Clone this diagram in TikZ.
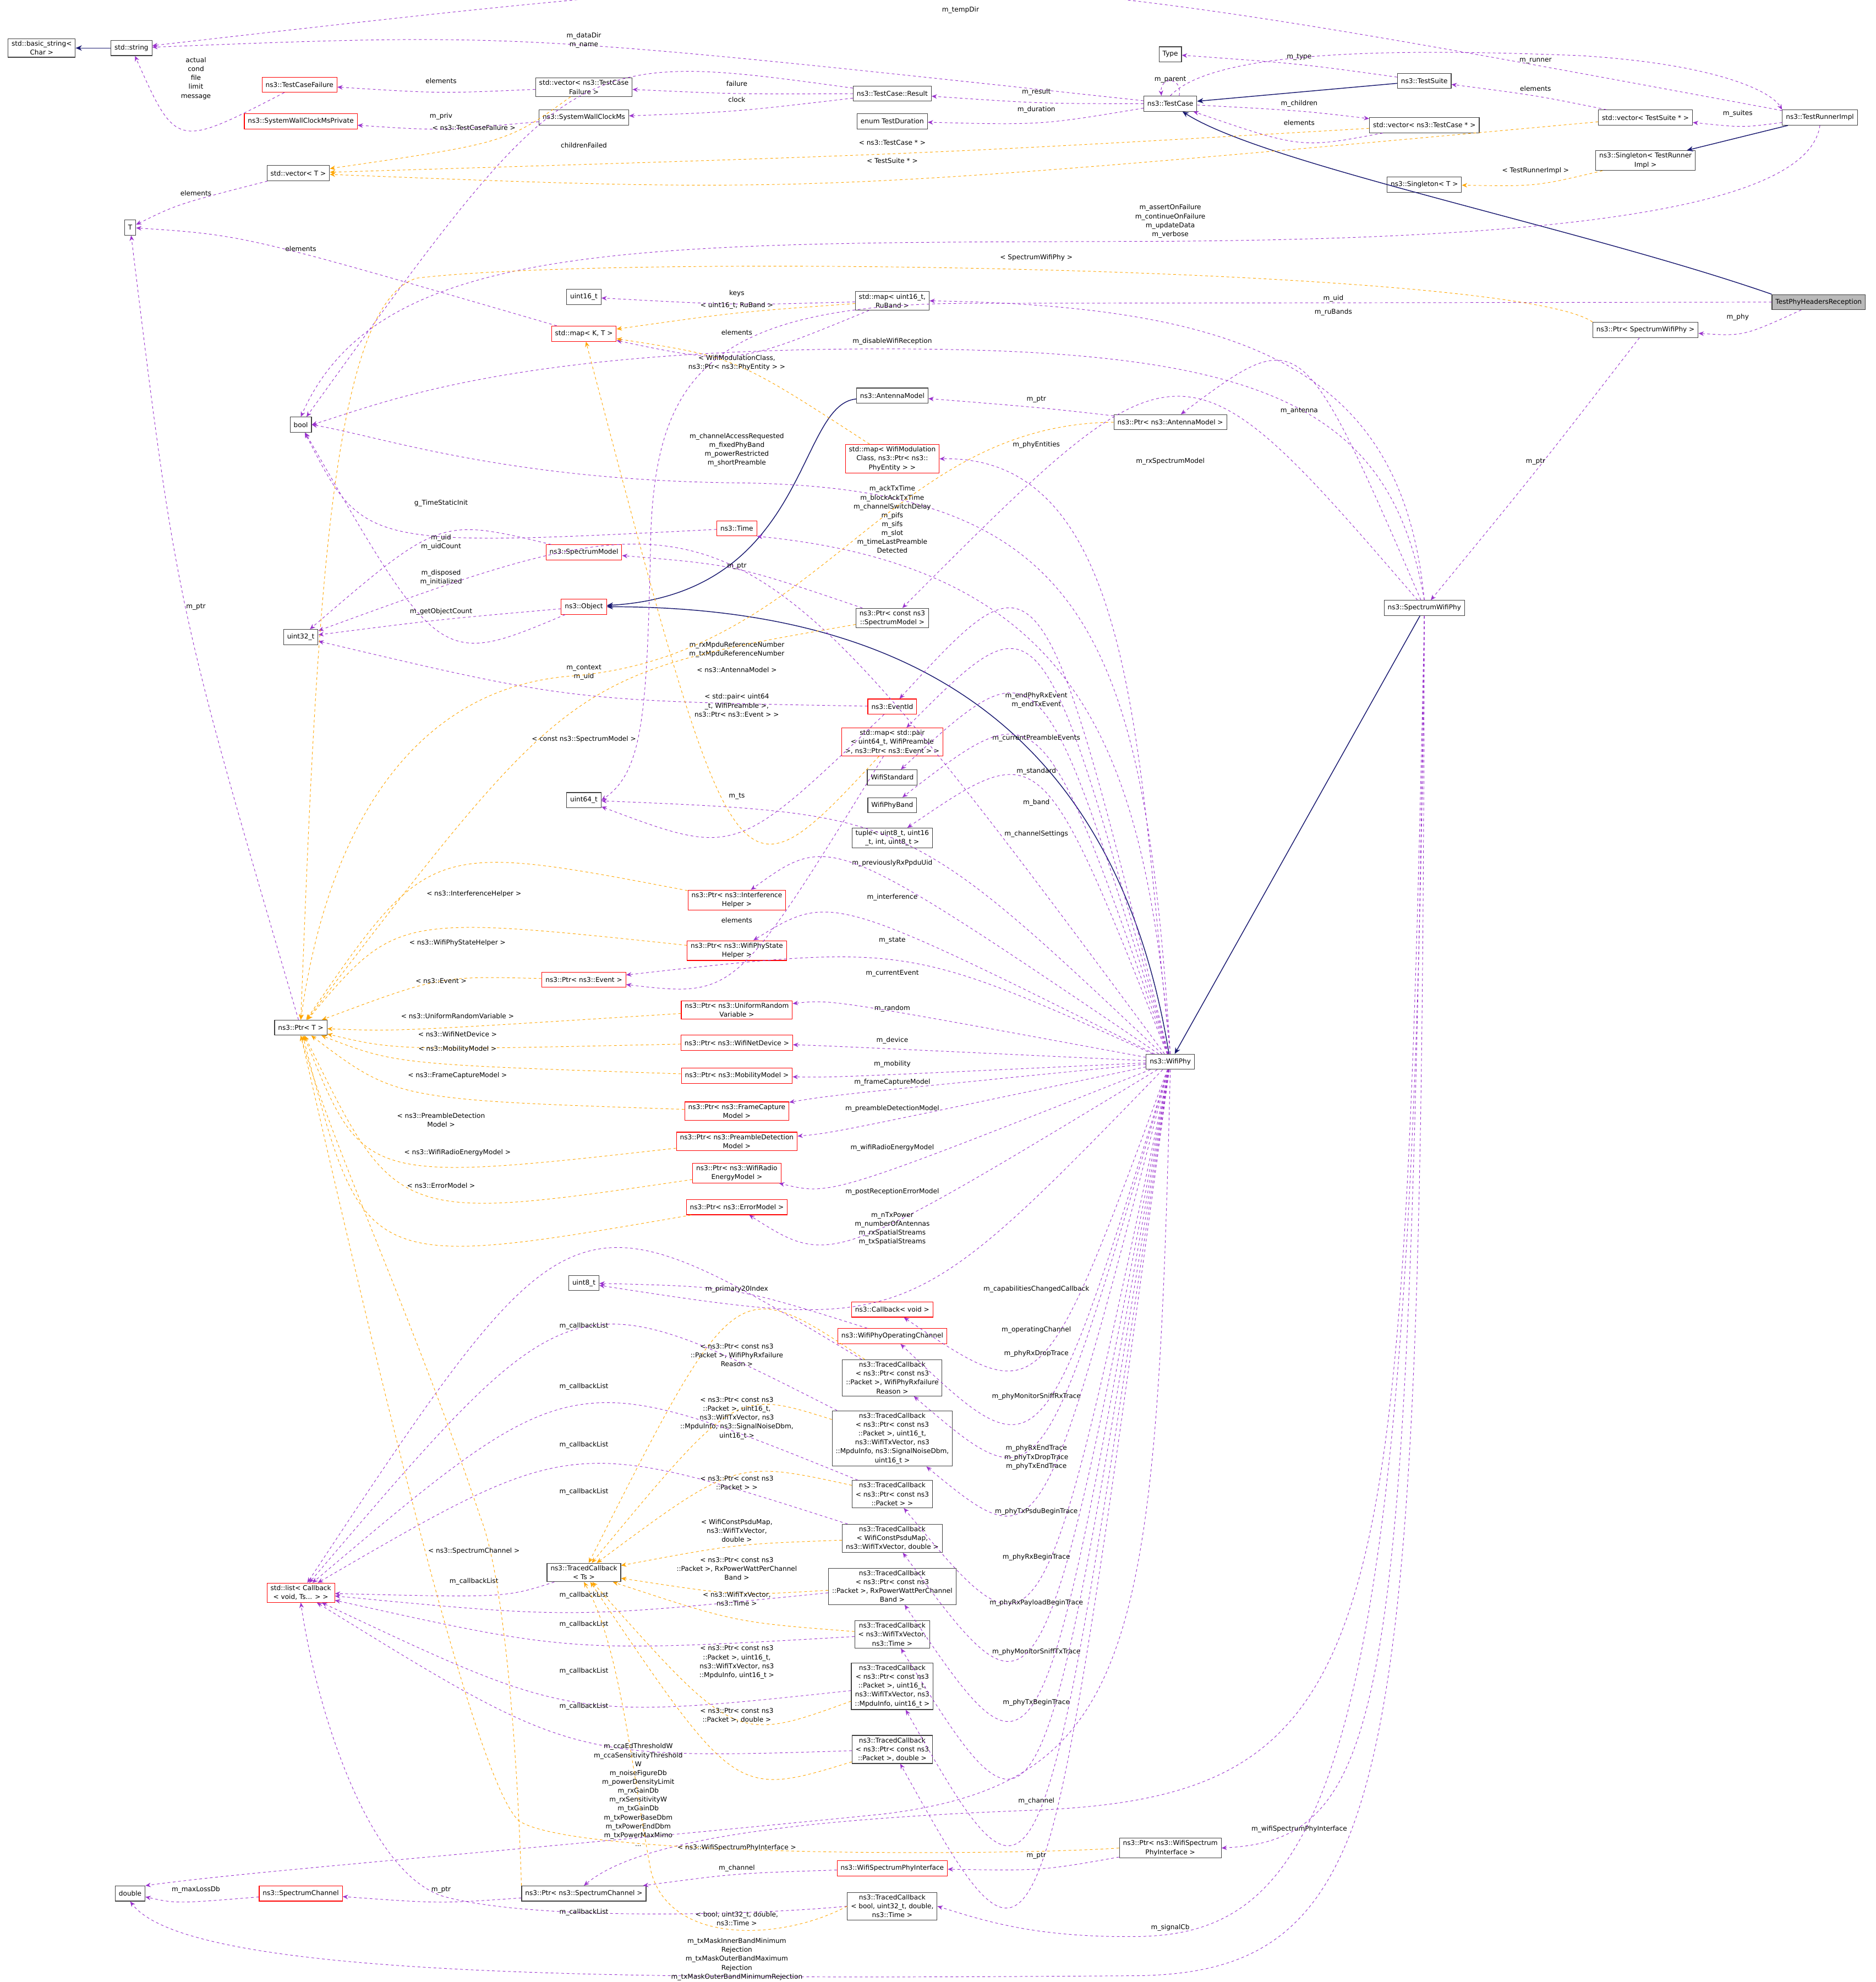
\documentclass[tikz,border=0pt]{standalone}
\usepackage{fontspec}
\setmainfont{DejaVu Sans}
\usetikzlibrary{arrows.meta,calc}
\definecolor{pc}{HTML}{9A32CD}
\definecolor{oc}{HTML}{FFA500}
\definecolor{nc}{HTML}{191970}
\tikzset{
 bx/.style={draw=black!75,line width=0.7pt,inner xsep=4pt,inner ysep=2.5pt,minimum height=0.6cm,align=center,fill=white,font=\fontsize{7.5}{10}\selectfont},
 rbx/.style={bx,draw=red},
 lbl/.style={align=center,inner sep=0pt,font=\fontsize{7.5}{10}\selectfont},
 pe/.style={pc,dashed,line width=0.6pt,-{Stealth[length=6pt,width=5pt]}},
 oe/.style={oc,dashed,line width=0.6pt,-{Stealth[length=6pt,width=5pt]}},
 ie/.style={nc,line width=0.9pt,-{Stealth[length=7pt,width=6pt]}},
}
\newcommand\E[7]{%
 \coordinate (P) at ($(#4,#5)+(0,{4*#6+3})$);
 \draw[#1] (#2) .. controls ($2*(P)-0.5*(#2)-0.5*(#3)$) .. (#3);
 \node[lbl] at (#4,#5) {#7};}
\newcommand\Lb[3]{\node[lbl] at (#1,#2) {#3};}
\begin{document}
\begin{tikzpicture}[x=0.05cm,y=-0.05cm]
\useasboundingbox (0,0) rectangle (1484,1568);
% nodes
\node[bx] (basicstring) at (33,38) {std::basic\_string<\\Char >};
\node[bx] (string) at (104,38) {std::string};
\node[rbx] (tcf) at (237,67) {ns3::TestCaseFailure};
\node[bx] (vecfailure) at (462,69) {std::vector< ns3::TestCase\\Failure >};
\node[rbx] (swpriv) at (238,96) {ns3::SystemWallClockMsPrivate};
\node[bx] (syswall) at (462,93) {ns3::SystemWallClockMs};
\node[bx] (result) at (706,74) {ns3::TestCase::Result};
\node[bx] (duration) at (706,96) {enum TestDuration};
\node[bx] (type) at (926,43) {Type};
\node[bx] (testcase) at (926,82) {ns3::TestCase};
\node[bx] (testsuite) at (1127,64) {ns3::TestSuite};
\node[bx] (vecsuite) at (1302,93) {std::vector< TestSuite * >};
\node[bx] (vectc) at (1127,99) {std::vector< ns3::TestCase * >};
\node[bx] (runner) at (1440,93) {ns3::TestRunnerImpl};
\node[bx] (vecT) at (236,137) {std::vector< T >};
\node[bx] (singR) at (1302,127) {ns3::Singleton< TestRunner\\Impl >};
\node[bx] (singT) at (1127,146) {ns3::Singleton< T >};
\node[bx] (T) at (103,180) {T};
\node[bx,fill=gray!55] (testphy) at (1439,239) {TestPhyHeadersReception};
\node[bx] (uint16) at (462,235) {uint16\_t};
\node[bx] (mapRu) at (706,238) {std::map< uint16\_t,\\RuBand >};
\node[rbx] (mapKT) at (462,264) {std::map< K, T >};
\node[bx] (ptrSWP) at (1302,261) {ns3::Ptr< SpectrumWifiPhy >};
\node[bx] (bool) at (238,336) {bool};
\node[bx] (antenna) at (706,313) {ns3::AntennaModel};
\node[bx] (ptrAnt) at (926,334) {ns3::Ptr< ns3::AntennaModel >};
\node[rbx] (mapWM) at (706,363) {std::map< WifiModulation\\Class, ns3::Ptr< ns3::\\PhyEntity > >};
\node[rbx] (time) at (583,418) {ns3::Time};
\node[rbx] (sm) at (462,437) {ns3::SpectrumModel};
\node[rbx] (object) at (462,480) {ns3::Object};
\node[bx] (ptrSM) at (706,489) {ns3::Ptr< const ns3\\::SpectrumModel >};
\node[bx] (swp) at (1127,481) {ns3::SpectrumWifiPhy};
\node[bx] (uint32) at (238,504) {uint32\_t};
\node[rbx] (eventid) at (706,559) {ns3::EventId};
\node[rbx] (mapPair) at (706,587) {std::map< std::pair\\< uint64\_t, WifiPreamble\\>, ns3::Ptr< ns3::Event > >};
\node[bx] (wstd) at (706,615) {WifiStandard};
\node[bx] (uint64) at (462,633) {uint64\_t};
\node[bx] (wband) at (706,637) {WifiPhyBand};
\node[bx] (tuple) at (706,663) {tuple< uint8\_t, uint16\\\_t, int, uint8\_t >};
\node[rbx] (pInt) at (583,712) {ns3::Ptr< ns3::Interference\\Helper >};
\node[rbx] (pState) at (583,752) {ns3::Ptr< ns3::WifiPhyState\\Helper >};
\node[rbx] (pEvent) at (462,775) {ns3::Ptr< ns3::Event >};
\node[bx] (ptrT) at (238,813) {ns3::Ptr< T >};
\node[rbx] (pRand) at (583,799) {ns3::Ptr< ns3::UniformRandom\\Variable >};
\node[rbx] (pDev) at (583,825) {ns3::Ptr< ns3::WifiNetDevice >};
\node[rbx] (pMob) at (583,851) {ns3::Ptr< ns3::MobilityModel >};
\node[bx] (wifiphy) at (926,840) {ns3::WifiPhy};
\node[rbx] (pFC) at (583,879) {ns3::Ptr< ns3::FrameCapture\\Model >};
\node[rbx] (pPre) at (583,903) {ns3::Ptr< ns3::PreambleDetection\\Model >};
\node[rbx] (pRad) at (583,928) {ns3::Ptr< ns3::WifiRadio\\EnergyModel >};
\node[rbx] (pErr) at (583,955) {ns3::Ptr< ns3::ErrorModel >};
\node[bx] (uint8) at (462,1015) {uint8\_t};
\node[rbx] (cbv) at (706,1036) {ns3::Callback< void >};
\node[rbx] (opch) at (706,1057) {ns3::WifiPhyOperatingChannel};
\node[bx] (tc1) at (706,1090) {ns3::TracedCallback\\< ns3::Ptr< const ns3\\::Packet >, WifiPhyRxfailure\\Reason >};
\node[bx] (tc2) at (706,1138) {ns3::TracedCallback\\< ns3::Ptr< const ns3\\::Packet >, uint16\_t,\\ns3::WifiTxVector, ns3\\::MpduInfo, ns3::SignalNoiseDbm,\\uint16\_t >};
\node[bx] (tc3) at (706,1182) {ns3::TracedCallback\\< ns3::Ptr< const ns3\\::Packet > >};
\node[bx] (tc4) at (706,1217) {ns3::TracedCallback\\< WifiConstPsduMap,\\ns3::WifiTxVector, double >};
\node[bx] (tcTs) at (462,1244) {ns3::TracedCallback\\< Ts >};
\node[rbx] (list) at (238,1260) {std::list< Callback\\< void, Ts... > >};
\node[bx] (tc5) at (706,1255) {ns3::TracedCallback\\< ns3::Ptr< const ns3\\::Packet >, RxPowerWattPerChannel\\Band >};
\node[bx] (tc6) at (706,1293) {ns3::TracedCallback\\< ns3::WifiTxVector,\\ns3::Time >};
\node[bx] (tc7) at (706,1334) {ns3::TracedCallback\\< ns3::Ptr< const ns3\\::Packet >, uint16\_t,\\ns3::WifiTxVector, ns3\\::MpduInfo, uint16\_t >};
\node[bx] (tc8) at (706,1384) {ns3::TracedCallback\\< ns3::Ptr< const ns3\\::Packet >, double >};
\node[bx] (pWSI) at (926,1462) {ns3::Ptr< ns3::WifiSpectrum\\PhyInterface >};
\node[rbx] (wsi) at (706,1478) {ns3::WifiSpectrumPhyInterface};
\node[bx] (double) at (103,1498) {double};
\node[rbx] (sc) at (238,1498) {ns3::SpectrumChannel};
\node[bx] (pSC) at (462,1498) {ns3::Ptr< ns3::SpectrumChannel >};
\node[bx] (tc9) at (706,1508) {ns3::TracedCallback\\< bool, uint32\_t, double,\\ns3::Time >};
% inheritance
\draw[ie] (string) -- (basicstring);
\draw[ie] (testsuite) -- (testcase);
\draw[ie] (runner) -- (singR);
\draw[ie] (testphy.north west) .. controls (1250,180) and (1000,130) .. (testcase);
\draw[ie] (antenna) .. controls (630,320) and (640,470) .. (object);
\draw[ie] (wifiphy) .. controls (880,560) and (700,480) .. (object);
\draw[ie] (swp) -- (wifiphy);
% purple
\E{pe}{runner}{string}{760}{8}{1}{m\_tempDir}
\E{pe}{testcase}{string}{462}{32}{2}{m\_dataDir\\m\_name}
\E{pe}{vecfailure}{tcf}{349}{64}{1}{elements}
\E{pe}{tcf}{string}{155}{62}{5}{actual\\cond\\file\\limit\\message}
\E{pe}{result}{vecfailure}{583}{66}{1}{failure}
\E{pe}{result}{syswall}{583}{79}{1}{clock}
\E{pe}{syswall}{swpriv}{349}{92}{1}{m\_priv}
\E{pe}{result}{bool}{462}{115}{1}{childrenFailed}
\E{pe}{testcase}{result}{820}{73}{1}{m\_result}
\E{pe}{testcase}{duration}{820}{87}{1}{m\_duration}
\draw[pe] ([xshift=10pt]testcase.north) .. controls ([xshift=14pt,yshift=22pt]testcase.north) and ([xshift=-12pt,yshift=22pt]testcase.north) .. ([xshift=-10pt]testcase.north);
\Lb{926}{63}{m\_parent}
\E{pe}{testsuite}{type}{1028}{45}{1}{m\_type}
\draw[pe] (testcase.north) .. controls (960,40) and (1100,38) .. (1250,44) .. controls (1350,50) and (1400,70) .. (runner.north west);
\Lb{1215}{48}{m\_runner}
\E{pe}{vecsuite}{testsuite}{1215}{70}{1}{elements}
\E{pe}{testcase}{vectc}{1028}{82}{1}{m\_children}
\E{pe}{vectc}{testcase}{1028}{97}{1}{elements}
\E{pe}{runner}{vecsuite}{1375}{90}{1}{m\_suites}
\draw[pe] (runner.south) .. controls (1430,170) and (1200,190) .. (900,191) .. controls (500,192) and (300,190) .. (bool.north);
\Lb{926}{175}{m\_assertOnFailure\\m\_continueOnFailure\\m\_updateData\\m\_verbose}
\E{pe}{vecT}{T}{155}{153}{1}{elements}
\E{pe}{mapKT}{T}{238}{197}{1}{elements}
\E{pe}{mapRu}{uint16}{583}{232}{1}{keys}
\E{pe}{mapRu}{mapKT}{583}{263}{1}{elements}
\draw[pe] (testphy.west) -- (760,240) .. controls (560,242) and (520,300) .. (515,420) .. controls (512,560) and (510,610) .. (uint64.east);
\Lb{1055}{236}{m\_uid}
\E{pe}{testphy}{ptrSWP}{1375}{251}{1}{m\_phy}
\draw[pe] (swp.north) .. controls (1110,300) and (1000,242) .. (mapRu.east);
\Lb{1055}{247}{m\_ruBands}
\draw[pe] (swp.north) .. controls (1100,320) and (1000,276) .. (700,276) .. controls (400,276) and (300,320) .. (bool.east);
\Lb{706}{270}{m\_disableWifiReception}
\E{pe}{ptrAnt}{antenna}{820}{316}{1}{m\_ptr}
\E{pe}{swp}{ptrAnt}{1028}{325}{1}{m\_antenna}
\draw[pe] (wifiphy.north) .. controls (900,600) and (900,360) .. (mapWM.east);
\Lb{820}{352}{m\_phyEntities}
\E{pe}{swp}{ptrSM}{926}{365}{1}{m\_rxSpectrumModel}
\E{pe}{ptrSWP}{swp}{1215}{365}{1}{m\_ptr}
\draw[pe] (wifiphy.north) .. controls (905,500) and (860,385) .. (583,382) .. controls (400,380) and (300,345) .. (bool.east);
\Lb{583}{356}{m\_channelAccessRequested\\m\_fixedPhyBand\\m\_powerRestricted\\m\_shortPreamble}
\E{pe}{time}{bool}{349}{398}{1}{g\_TimeStaticInit}
\draw[pe] (wifiphy.north) .. controls (905,600) and (860,450) .. (time.south east);
\Lb{706}{411}{m\_ackTxTime\\m\_blockAckTxTime\\m\_channelSwitchDelay\\m\_pifs\\m\_sifs\\m\_slot\\m\_timeLastPreamble\\Detected}
\E{pe}{sm}{uint32}{349}{429}{2}{m\_uid\\m\_uidCount}
\E{pe}{object}{bool}{349}{457}{2}{m\_disposed\\m\_initialized}
\E{pe}{ptrSM}{sm}{583}{448}{1}{m\_ptr}
\E{pe}{object}{uint32}{349}{484}{1}{m\_getObjectCount}
\E{pe}{wifiphy}{uint32}{583}{514}{2}{m\_rxMpduReferenceNumber\\m\_txMpduReferenceNumber}
\E{pe}{eventid}{uint32}{462}{532}{2}{m\_context\\m\_uid}
\E{pe}{wifiphy}{eventid}{820}{554}{2}{m\_endPhyRxEvent\\m\_endTxEvent}
\E{pe}{wifiphy}{mapPair}{820}{584}{1}{m\_currentPreambleEvents}
\E{pe}{wifiphy}{wstd}{820}{610}{1}{m\_standard}
\E{pe}{eventid}{uint64}{583}{630}{1}{m\_ts}
\E{pe}{wifiphy}{wband}{820}{635}{1}{m\_band}
\E{pe}{wifiphy}{tuple}{820}{660}{1}{m\_channelSettings}
\E{pe}{wifiphy}{uint64}{706}{683}{1}{m\_previouslyRxPpduUid}
\E{pe}{wifiphy}{pInt}{706}{710}{1}{m\_interference}
\E{pe}{mapPair}{pEvent}{583}{728}{1}{elements}
\E{pe}{wifiphy}{pState}{706}{744}{1}{m\_state}
\E{pe}{wifiphy}{pEvent}{706}{770}{1}{m\_currentEvent}
\E{pe}{wifiphy}{pRand}{706}{798}{1}{m\_random}
\E{pe}{wifiphy}{pDev}{706}{823}{1}{m\_device}
\E{pe}{wifiphy}{pMob}{706}{842}{1}{m\_mobility}
\E{pe}{wifiphy}{pFC}{706}{856}{1}{m\_frameCaptureModel}
\E{pe}{wifiphy}{pPre}{706}{877}{1}{m\_preambleDetectionModel}
\E{pe}{wifiphy}{pRad}{706}{908}{1}{m\_wifiRadioEnergyModel}
\E{pe}{wifiphy}{pErr}{706}{943}{1}{m\_postReceptionErrorModel}
\E{pe}{wifiphy}{uint8}{706}{972}{4}{m\_nTxPower\\m\_numberOfAntennas\\m\_rxSpatialStreams\\m\_txSpatialStreams}
\E{pe}{ptrT}{T}{155}{480}{1}{m\_ptr}
\E{pe}{opch}{uint8}{583}{1020}{1}{m\_primary20Index}
\E{pe}{wifiphy}{cbv}{820}{1020}{1}{m\_capabilitiesChangedCallback}
\E{pe}{wifiphy}{opch}{820}{1052}{1}{m\_operatingChannel}
\E{pe}{wifiphy}{tc1}{820}{1071}{1}{m\_phyRxDropTrace}
\E{pe}{wifiphy}{tc2}{820}{1105}{1}{m\_phyMonitorSniffRxTrace}
\E{pe}{wifiphy}{tc3}{820}{1153}{3}{m\_phyRxEndTrace\\m\_phyTxDropTrace\\m\_phyTxEndTrace}
\E{pe}{wifiphy}{tc4}{820}{1196}{1}{m\_phyTxPsduBeginTrace}
\E{pe}{wifiphy}{tc5}{820}{1232}{1}{m\_phyRxBeginTrace}
\E{pe}{wifiphy}{tc6}{820}{1268}{1}{m\_phyRxPayloadBeginTrace}
\E{pe}{wifiphy}{tc7}{820}{1307}{1}{m\_phyMonitorSniffTxTrace}
\E{pe}{wifiphy}{tc8}{820}{1347}{1}{m\_phyTxBeginTrace}
\E{pe}{tc1}{list}{462}{1049}{1}{m\_callbackList}
\E{pe}{tc2}{list}{462}{1097}{1}{m\_callbackList}
\E{pe}{tc3}{list}{462}{1143}{1}{m\_callbackList}
\E{pe}{tc4}{list}{462}{1180}{1}{m\_callbackList}
\E{pe}{tcTs}{list}{375}{1251}{1}{m\_callbackList}
\E{pe}{tc5}{list}{462}{1262}{1}{m\_callbackList}
\E{pe}{tc6}{list}{462}{1285}{1}{m\_callbackList}
\E{pe}{tc7}{list}{462}{1322}{1}{m\_callbackList}
\E{pe}{tc8}{list}{462}{1350}{1}{m\_callbackList}
\draw[pe] (tc9.west) .. controls (600,1515) and (420,1520) .. (350,1500) .. controls (290,1480) and (250,1350) .. (list.south);
\Lb{462}{1513}{m\_callbackList}
\draw[pe] (wifiphy.south) .. controls (915,1300) and (900,1410) .. (700,1435) .. controls (400,1465) and (200,1480) .. (double.north east);
\Lb{505}{1420}{m\_ccaEdThresholdW\\m\_ccaSensitivityThreshold\\W\\m\_noiseFigureDb\\m\_powerDensityLimit\\m\_rxGainDb\\m\_rxSensitivityW\\m\_txGainDb\\m\_txPowerBaseDbm\\m\_txPowerEndDbm\\m\_txPowerMaxMimo\\...}
\draw[pe] (swp.south) .. controls (1110,1300) and (1100,1420) .. (820,1432) .. controls (600,1440) and (500,1460) .. (pSC.north);
\Lb{820}{1425}{m\_channel}
\draw[pe] (swp.south) .. controls (1115,1350) and (1100,1455) .. (pWSI.east);
\Lb{1028}{1447}{m\_wifiSpectrumPhyInterface}
\E{pe}{pWSI}{wsi}{820}{1468}{1}{m\_ptr}
\E{pe}{wsi}{pSC}{583}{1478}{1}{m\_channel}
\E{pe}{pSC}{sc}{349}{1495}{1}{m\_ptr}
\E{pe}{sc}{double}{155}{1495}{1}{m\_maxLossDb}
\draw[pe] (swp.south) .. controls (1120,1400) and (1050,1530) .. (900,1532) .. controls (820,1533) and (780,1520) .. (tc9.east);
\Lb{926}{1525}{m\_signalCb}
\draw[pe] (swp.south) .. controls (1125,1400) and (1110,1560) .. (900,1563) .. controls (500,1566) and (150,1566) .. (double.south);
\Lb{583}{1550}{m\_txMaskInnerBandMinimum\\Rejection\\m\_txMaskOuterBandMaximum\\Rejection\\m\_txMaskOuterBandMinimumRejection}
% orange
\E{oe}{vecfailure}{vecT}{375}{101}{1}{< ns3::TestCaseFailure >}
\E{oe}{vectc}{vecT}{706}{113}{1}{< ns3::TestCase * >}
\E{oe}{vecsuite}{vecT}{706}{127}{1}{< TestSuite * >}
\E{oe}{singR}{singT}{1215}{135}{1}{< TestRunnerImpl >}
\draw[oe] (ptrSWP.north west) .. controls (1200,212) and (500,200) .. (330,220) .. controls (260,240) and (250,500) .. (ptrT.north);
\Lb{820}{204}{< SpectrumWifiPhy >}
\E{oe}{mapRu}{mapKT}{583}{242}{1}{< uint16\_t, RuBand >}
\E{oe}{mapWM}{mapKT}{583}{287}{2}{< WifiModulationClass,\\ns3::Ptr< ns3::PhyEntity > >}
\draw[oe] (ptrAnt.west) .. controls (700,336) and (650,520) .. (450,535) .. controls (330,545) and (260,650) .. (ptrT.north);
\Lb{583}{530}{< ns3::AntennaModel >}
\E{oe}{mapPair}{mapKT}{583}{558}{3}{< std::pair< uint64\\\_t, WifiPreamble >,\\ns3::Ptr< ns3::Event > >}
\E{oe}{ptrSM}{ptrT}{462}{585}{1}{< const ns3::SpectrumModel >}
\E{oe}{pInt}{ptrT}{375}{707}{1}{< ns3::InterferenceHelper >}
\E{oe}{pState}{ptrT}{362}{746}{1}{< ns3::WifiPhyStateHelper >}
\E{oe}{pEvent}{ptrT}{349}{776}{1}{< ns3::Event >}
\E{oe}{pRand}{ptrT}{362}{804}{1}{< ns3::UniformRandomVariable >}
\E{oe}{pDev}{ptrT}{362}{818}{1}{< ns3::WifiNetDevice >}
\E{oe}{pMob}{ptrT}{362}{830}{1}{< ns3::MobilityModel >}
\E{oe}{pFC}{ptrT}{362}{851}{1}{< ns3::FrameCaptureModel >}
\E{oe}{pPre}{ptrT}{349}{886}{2}{< ns3::PreambleDetection\\Model >}
\E{oe}{pRad}{ptrT}{362}{912}{1}{< ns3::WifiRadioEnergyModel >}
\E{oe}{pErr}{ptrT}{349}{938}{1}{< ns3::ErrorModel >}
\draw[oe] (pSC.north west) .. controls (410,1400) and (400,1250) .. (380,1200) .. controls (330,1050) and (260,900) .. (ptrT.south);
\Lb{375}{1227}{< ns3::SpectrumChannel >}
\draw[oe] (pWSI.west) .. controls (800,1468) and (450,1470) .. (410,1440) .. controls (370,1400) and (280,1000) .. (ptrT.south);
\Lb{583}{1462}{< ns3::WifiSpectrumPhyInterface >}
\E{oe}{tc1}{tcTs}{583}{1072}{3}{< ns3::Ptr< const ns3\\::Packet >, WifiPhyRxfailure\\Reason >}
\E{oe}{tc2}{tcTs}{583}{1122}{5}{< ns3::Ptr< const ns3\\::Packet >, uint16\_t,\\ns3::WifiTxVector, ns3\\::MpduInfo, ns3::SignalNoiseDbm,\\uint16\_t >}
\E{oe}{tc3}{tcTs}{583}{1173}{2}{< ns3::Ptr< const ns3\\::Packet > >}
\E{oe}{tc4}{tcTs}{583}{1211}{3}{< WifiConstPsduMap,\\ns3::WifiTxVector,\\double >}
\E{oe}{tc5}{tcTs}{583}{1241}{3}{< ns3::Ptr< const ns3\\::Packet >, RxPowerWattPerChannel\\Band >}
\E{oe}{tc6}{tcTs}{583}{1265}{2}{< ns3::WifiTxVector,\\ns3::Time >}
\E{oe}{tc7}{tcTs}{583}{1315}{4}{< ns3::Ptr< const ns3\\::Packet >, uint16\_t,\\ns3::WifiTxVector, ns3\\::MpduInfo, uint16\_t >}
\E{oe}{tc8}{tcTs}{583}{1357}{2}{< ns3::Ptr< const ns3\\::Packet >, double >}
\draw[oe] (tc9.west) .. controls (620,1535) and (530,1540) .. (515,1480) .. controls (500,1400) and (490,1300) .. (tcTs.south);
\Lb{583}{1518}{< bool, uint32\_t, double,\\ns3::Time >}
\end{tikzpicture}
\end{document}
